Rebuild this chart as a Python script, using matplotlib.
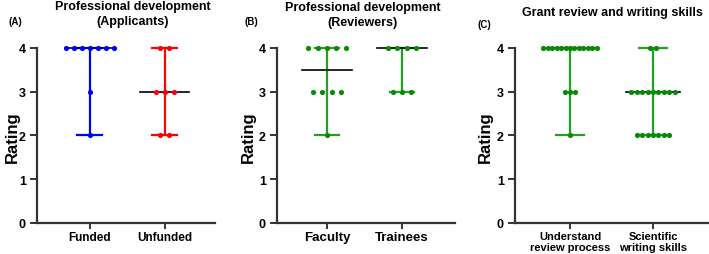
import numpy as np
import matplotlib.pyplot as plt

plt.rcParams['font.family'] = ['Liberation Sans', 'DejaVu Sans']
plt.rcParams['font.weight'] = 'bold'

# ratings per respondent
funded = [4, 4, 4, 4, 4, 4, 4, 3, 2]
unfunded = [4, 4, 3, 3, 3, 2, 2]
faculty = [4, 4, 4, 4, 4, 3, 3, 3, 3, 2]
trainees = [4, 4, 4, 4, 3, 3, 3]
understand = [4] * 13 + [3] * 3 + [2]
sci_writing = [4] * 2 + [3] * 9 + [2] * 7

panel_titles = ["Professional development\n(Applicants)",
                "Professional development\n(Reviewers)",
                "Grant review and writing skills"]
panel_letters = ["(A)", "(B)", "(C)"]
group_labels = [["Funded", "Unfunded"],
                ["Faculty", "Trainees"],
                ["Understand\nreview process", "Scientific\nwriting skills"]]
yticks = [0, 1, 2, 3, 4]

BLUE = '#0000ff'
RED = '#ff0000'
GREEN_LINE = '#22a022'
GREEN_DOT = '#088a08'
SPINE = '#333333'

W, H = 709, 255
fig = plt.figure(figsize=(W / 100, H / 100), dpi=100)


def px_rect(left, right, top=48.7, bottom=224):
    return [left / W, (H - bottom) / H, (right - left) / W, (bottom - top) / H]


def draw_group(ax, x, vals, line_color, dot_color, base_sp):
    vals = np.asarray(vals)
    lo, hi, med = vals.min(), vals.max(), np.median(vals)
    ax.plot([x, x], [lo, hi], color=line_color, lw=1.6, zorder=2, clip_on=False)
    for v in (lo, hi):
        ax.plot([x - 0.165, x + 0.165], [v, v], color=line_color, lw=1.6,
                zorder=2, clip_on=False)
    ax.plot([x - 0.33, x + 0.33], [med, med], color='black', lw=1.2,
            zorder=3, clip_on=False)
    for level in np.unique(vals):
        n = int((vals == level).sum())
        sp = 0 if n == 1 else min(base_sp, 0.64 / (n - 1))
        offs = (np.arange(n) - (n - 1) / 2) * sp
        ax.scatter(x + offs, np.full(n, level), s=14, color=dot_color,
                   linewidths=0, zorder=4, clip_on=False)


def style_axes(ax, labels, xlim, fsize, lspace):
    ax.set_xlim(*xlim)
    ax.set_ylim(0, 4)
    ax.set_yticks(yticks)
    ax.set_xticks([0, 1])
    ax.set_xticklabels(labels, fontsize=fsize, fontweight='bold', linespacing=lspace)
    ax.tick_params(axis='y', labelsize=9, length=5, width=1.4, color=SPINE, pad=3)
    ax.tick_params(axis='x', length=4, width=1.4, color=SPINE, pad=1.5)
    for s in ('top', 'right'):
        ax.spines[s].set_visible(False)
    for s in ('left', 'bottom'):
        ax.spines[s].set_linewidth(1.6)
        ax.spines[s].set_color(SPINE)


groups = [[(funded, BLUE, BLUE), (unfunded, RED, RED)],
          [(faculty, GREEN_LINE, GREEN_DOT), (trainees, GREEN_LINE, GREEN_DOT)],
          [(understand, GREEN_LINE, GREEN_DOT), (sci_writing, GREEN_LINE, GREEN_DOT)]]
rects = [px_rect(37, 215), px_rect(277, 455), px_rect(515, 709)]
xlims = [(-0.70, 1.673), (-0.667, 1.707), (-0.663, 1.675)]
dot_spacing = [0.12, 0.125, 0.065]
label_sizes = [8.5, 9.5, 8.0]
title_pos = [(133, 14.5), (363, 15.5), (612, 13)]
letter_pos = [(15, 22), (251, 22), (484, 25)]
ylabel_x = [12, 248, 485]

for i in range(3):
    ax = fig.add_axes(rects[i])
    for j, (vals, lc, dc) in enumerate(groups[i]):
        draw_group(ax, j, vals, lc, dc, dot_spacing[i])
    style_axes(ax, group_labels[i], xlims[i], label_sizes[i], 1.15)
    tx, ty = title_pos[i]
    fig.text(tx / W, 1 - ty / H, panel_titles[i], ha='center', va='center',
             fontsize=9, fontweight='bold', linespacing=1.35)
    lx, ly = letter_pos[i]
    fig.text(lx / W, 1 - ly / H, panel_letters[i], ha='center', va='center',
             fontsize=7, fontweight='bold')
    fig.text(ylabel_x[i] / W, 1 - 137 / H, "Rating", rotation=90,
             ha='center', va='center', fontsize=12, fontweight='bold')

fig.savefig('out.png', dpi=100)
